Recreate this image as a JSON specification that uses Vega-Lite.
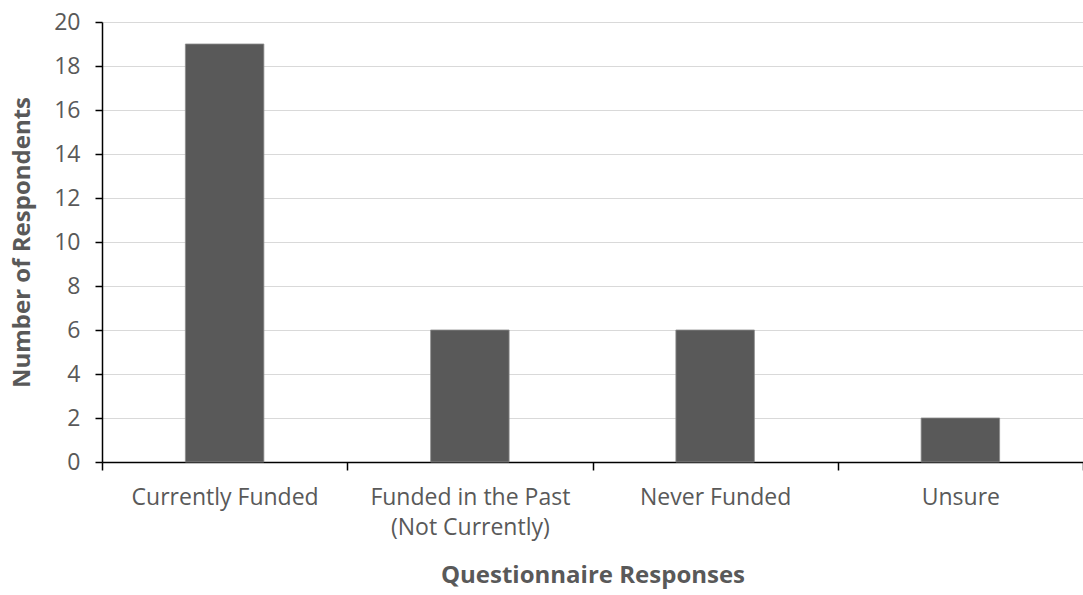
{
  "$schema": "https://vega.github.io/schema/vega-lite/v6.json",
  "width": 981,
  "height": 440,
  "autosize": {"type": "none"},
  "padding": {"left": 102, "top": 22, "right": 0, "bottom": 133},
  "background": "white",
  "data": {
    "values": [
      {"response": "Currently Funded", "respondents": 19},
      {"response": "Funded in the Past (Not Currently)", "respondents": 6},
      {"response": "Never Funded", "respondents": 6},
      {"response": "Unsure", "respondents": 2}
    ]
  },
  "mark": {"type": "bar", "color": "#595959", "stroke": "#8c8c8c", "strokeWidth": 0.8, "width": {"band": 0.32}},
  "encoding": {
    "x": {
      "field": "response",
      "type": "nominal",
      "sort": null,
      "scale": {"paddingInner": 0, "paddingOuter": 0},
      "axis": {
        "title": "Questionnaire Responses",
        "labelAngle": 0,
        "tickBand": "extent",
        "grid": false,
        "domainColor": "#000000",
        "domainWidth": 1.5,
        "tickColor": "#000000",
        "tickWidth": 1.5,
        "tickSize": 8,
        "labelPadding": 16,
        "labelBaseline": "top",
        "labelLineHeight": 30,
        "labelLimit": 0,
        "labelFont": "Open Sans",
        "labelFontSize": 23,
        "labelColor": "#595959",
        "labelExpr": "datum.label == 'Funded in the Past (Not Currently)' ? ['Funded in the Past', '(Not Currently)'] : datum.label",
        "titleFont": "Open Sans",
        "titleFontSize": 24,
        "titleFontWeight": "bold",
        "titleColor": "#595959",
        "titlePadding": 24
      }
    },
    "y": {
      "field": "respondents",
      "type": "quantitative",
      "scale": {"domain": [0, 20]},
      "axis": {
        "title": "Number of Respondents",
        "values": [0, 2, 4, 6, 8, 10, 12, 14, 16, 18, 20],
        "grid": true,
        "gridColor": "#d9d9d9",
        "gridWidth": 1.2,
        "domainColor": "#000000",
        "domainWidth": 1.5,
        "tickColor": "#000000",
        "tickWidth": 1.5,
        "tickSize": 7,
        "labelPadding": 15,
        "labelFont": "Open Sans",
        "labelFontSize": 23,
        "labelColor": "#595959",
        "titleFont": "Open Sans",
        "titleFontSize": 24,
        "titleFontWeight": "bold",
        "titleColor": "#595959",
        "titlePadding": 19
      }
    }
  },
  "config": {"view": {"stroke": null}}
}
